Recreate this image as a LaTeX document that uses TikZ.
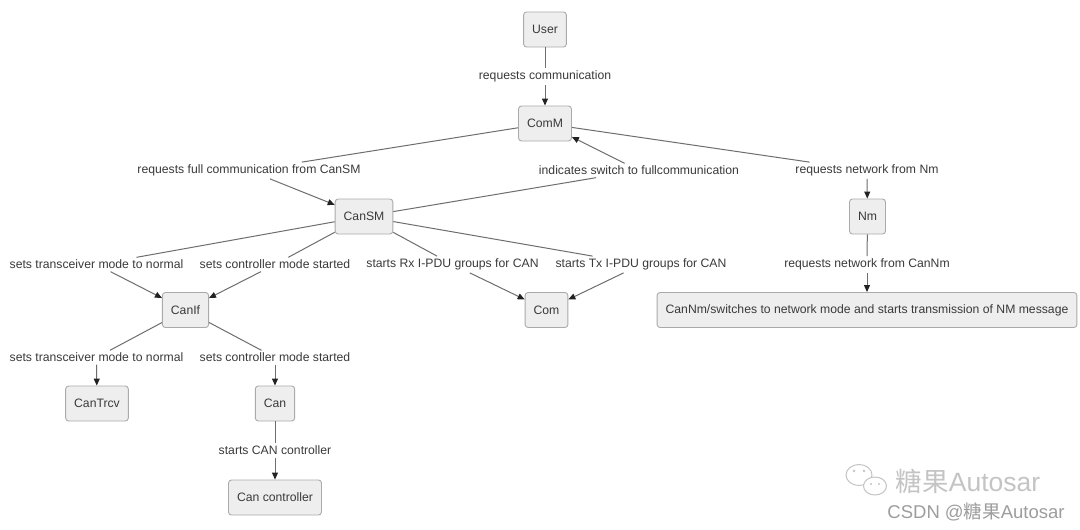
\documentclass[tikz,border=0pt]{standalone}
\usepackage{fontspec}
\setmainfont{Liberation Sans}
\newfontfamily\cjkfont{Noto Sans CJK SC}
\usetikzlibrary{arrows.meta}
\definecolor{ink}{HTML}{3A3A3A}
\definecolor{edgegray}{HTML}{6E6E6E}
\definecolor{tipgray}{HTML}{222222}
\definecolor{boxfill}{HTML}{EEEEEE}
\definecolor{boxline}{HTML}{AAAAAA}
\definecolor{wmgray}{HTML}{C4C4C4}
\tikzset{
  box/.style={draw=boxline, fill=boxfill, rounded corners=3pt, line width=0.9pt,
    minimum height=35pt, inner xsep=8.5pt, text=ink, font=\fontsize{12.2}{14}\selectfont},
  lab/.style={inner sep=2.5pt, text=ink, font=\fontsize{12.2}{14}\selectfont},
  link/.style={draw=edgegray, line width=1pt},
  arr/.style={link, -{Triangle[length=7pt,width=6pt,color=tipgray]}},
  wm/.style={text=wmgray, inner sep=0pt}
}

\begin{document}
\begin{tikzpicture}[x=1pt,y=-1pt]
  \fill[white] (0,0) rectangle (1080,530);
  \useasboundingbox (0,0) rectangle (1080,530);

  % modules
  \node[box] (User) at (545,29.5) {User};
  \node[box] (ComM) at (545,123.5) {ComM};
  \node[box] (CanSM) at (364,216.5) {CanSM};
  \node[box] (Nm) at (867.5,216.5) {Nm};
  \node[box] (CanIf) at (185.5,310) {CanIf};
  \node[box] (Com) at (546.5,310) {Com};
  \node[box] (CanNm) at (867,310) {CanNm/switches to network mode and starts transmission of NM message};
  \node[box] (CanTrcv) at (97,403.5) {CanTrcv};
  \node[box] (Can) at (275,403.5) {Can};
  \node[box] (CanCtrl) at (275,497.5) {Can controller};

  % edge labels
  \node[lab] (lReq) at (545,76.5) {requests communication};
  \node[lab] (lFull) at (249,170.5) {requests full communication from CanSM};
  \node[lab] (lSwitch) at (639,170.5) {indicates switch to fullcommunication};
  \node[lab] (lNm) at (867,170.5) {requests network from Nm};
  \node[lab] (lTrcvA) at (96.5,264.5) {sets transceiver mode to normal};
  \node[lab] (lCtrlA) at (275,264.5) {sets controller mode started};
  \node[lab] (lRx) at (452.5,264.5) {starts Rx I-PDU groups for CAN};
  \node[lab] (lTx) at (641,264.5) {starts Tx I-PDU groups for CAN};
  \node[lab] (lCanNm) at (867,264.5) {requests network from CanNm};
  \node[lab] (lTrcvB) at (96.5,357.5) {sets transceiver mode to normal};
  \node[lab] (lCtrlB) at (275,357.5) {sets controller mode started};
  \node[lab] (lStart) at (275,450.5) {starts CAN controller};

  % connectors
  \draw[link] (User) -- (lReq);   \draw[arr] (lReq) -- (ComM);
  \draw[link] (ComM) -- (lFull);  \draw[arr] (lFull) -- (CanSM);
  \draw[link] (CanSM) -- (lSwitch); \draw[arr] (lSwitch) -- (ComM);
  \draw[link] (ComM) -- (lNm);    \draw[arr] (lNm) -- (Nm);
  \draw[link] (CanSM) -- (lTrcvA); \draw[arr] (lTrcvA) -- (CanIf);
  \draw[link] (CanSM) -- (lCtrlA); \draw[arr] (lCtrlA) -- (CanIf);
  \draw[link] (CanSM) -- (lRx);   \draw[arr] (lRx) -- (Com);
  \draw[link] (CanSM) -- (lTx);   \draw[arr] (lTx) -- (Com);
  \draw[link] (Nm) -- (lCanNm);   \draw[arr] (lCanNm) -- (CanNm);
  \draw[link] (CanIf) -- (lTrcvB); \draw[arr] (lTrcvB) -- (CanTrcv);
  \draw[link] (CanIf) -- (lCtrlB); \draw[arr] (lCtrlB) -- (Can);
  \draw[link] (Can) -- (lStart);  \draw[arr] (lStart) -- (CanCtrl);

  % watermark
  \draw[wmgray, line width=1pt] (859,475) ellipse [x radius=13, y radius=10.5];
  \draw[wmgray, line width=1pt, fill=white] (875,486) ellipse [x radius=11.5, y radius=9];
  \fill[wmgray] (854,471) circle (1.4) (864,471) circle (1.4) (871,484) circle (1.2) (879,484) circle (1.2);
  \node[wm, font=\fontsize{26.5}{28}\selectfont] (wmName) at (968,481) {{\cjkfont 糖果}Autosar};
  \node[wm, text=wmgray!80!black, font=\fontsize{18.5}{20}\selectfont] (wmSite) at (976,512) {CSDN @{\cjkfont 糖果}Autosar};
\end{tikzpicture}
\end{document}
